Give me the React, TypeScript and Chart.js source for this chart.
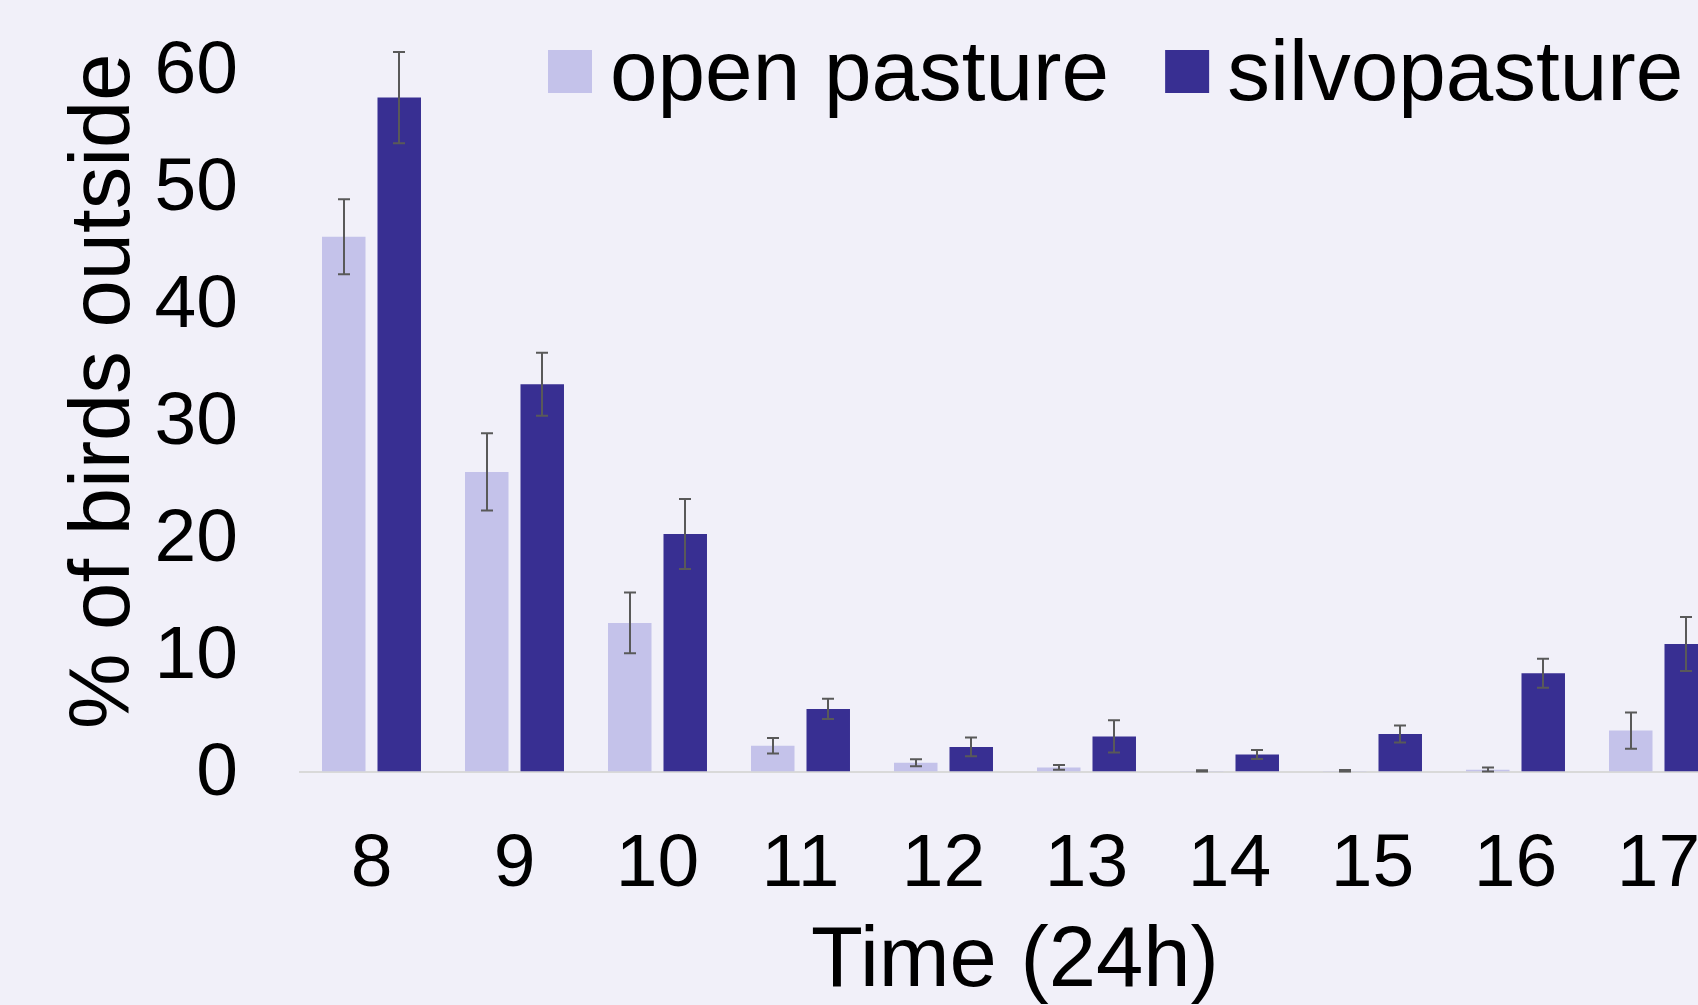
import React, { useEffect, useRef } from 'react';
import { Chart, registerables } from 'chart.js';

Chart.register(...registerables);

// ---- data ----
const categories = ['8', '9', '10', '11', '12', '13', '14', '15', '16', '17'];
const seriesNames = ['open pasture', 'silvopasture'];
const openPasture = [45.7, 25.6, 12.7, 2.2, 0.75, 0.35, 0.05, 0.04, 0.15, 3.5];
const openPastureErr = [3.2, 3.3, 2.6, 0.67, 0.3, 0.21, 0.05, 0.08, 0.2, 1.55];
const silvopasture = [57.6, 33.1, 20.3, 5.35, 2.1, 3.0, 1.45, 3.2, 8.4, 10.9];
const silvopastureErr = [3.9, 2.7, 3.0, 0.86, 0.8, 1.37, 0.38, 0.73, 1.24, 2.3];
const yTickStep = 10;
const yMax = 65;

const COLORS = ['#C4C2EA', '#382F92'];
const BG = '#F1F0F9';
const FONT = "'Liberation Sans', Arial, Helvetica, sans-serif";

export default function App() {
  const ref = useRef<HTMLCanvasElement>(null);

  useEffect(() => {
    if (!ref.current) return;
    const errs = [openPastureErr, silvopastureErr];

    const errorBars = {
      id: 'errorBars',
      afterDatasetsDraw(chart: any) {
        const ctx = chart.ctx;
        const ys = chart.scales.y;
        ctx.save();
        ctx.strokeStyle = '#595959';
        ctx.lineWidth = 2;
        chart.data.datasets.forEach((ds: any, i: number) => {
          const meta = chart.getDatasetMeta(i);
          meta.data.forEach((el: any, j: number) => {
            const v = ds.data[j];
            const e = errs[i][j];
            const x = Math.round(el.x);
            const yt = ys.getPixelForValue(v + e);
            const yb = ys.getPixelForValue(Math.max(0, v - e));
            ctx.beginPath();
            ctx.moveTo(x, yt);
            ctx.lineTo(x, yb);
            ctx.moveTo(x - 6, yt);
            ctx.lineTo(x + 6, yt);
            ctx.moveTo(x - 6, yb);
            ctx.lineTo(x + 6, yb);
            ctx.stroke();
          });
        });
        ctx.restore();
      },
    };

    const customLegend = {
      id: 'customLegend',
      afterDraw(chart: any) {
        const ctx = chart.ctx;
        ctx.save();
        ctx.font = `85.5px ${FONT}`;
        ctx.textBaseline = 'alphabetic';
        ctx.textAlign = 'left';
        let x = 548;
        seriesNames.forEach((name, i) => {
          ctx.fillStyle = COLORS[i];
          ctx.fillRect(x, 50, 44, 43);
          ctx.fillStyle = '#000';
          ctx.fillText(name, x + 62, 100);
          x += 62 + ctx.measureText(name).width + 56;
        });
        ctx.restore();
      },
    };

    const chart = new Chart(ref.current, {
      type: 'bar',
      data: {
        labels: categories,
        datasets: [
          {
            label: seriesNames[0],
            data: openPasture,
            backgroundColor: COLORS[0],
            borderWidth: 0,
            categoryPercentage: 0.776,
            barPercentage: 0.784,
          },
          {
            label: seriesNames[1],
            data: silvopasture,
            backgroundColor: COLORS[1],
            borderWidth: 0,
            categoryPercentage: 0.776,
            barPercentage: 0.784,
          },
        ],
      },
      options: {
        responsive: false,
        animation: false,
        devicePixelRatio: 1,
        layout: { padding: { top: 11, left: 0, right: 0, bottom: 0 } },
        plugins: {
          legend: { display: false },
          tooltip: { enabled: false },
        },
        scales: {
          x: {
            grid: { display: false, drawTicks: false },
            border: { display: true, color: '#D9D9D9', width: 2 },
            ticks: {
              font: { size: 75, family: FONT, lineHeight: 1.2 },
              color: '#000',
              padding: 49,
              maxRotation: 0,
              autoSkip: false,
            },
            title: {
              display: true,
              text: 'Time (24h)',
              color: '#000',
              font: { size: 85, family: FONT, lineHeight: 1 },
              padding: { top: 0, bottom: 0 },
            },
            afterFit: (s: any) => {
              s.height = 233.5;
              s.paddingLeft = 0;
              s.paddingRight = 0;
            },
          },
          y: {
            min: 0,
            max: yMax,
            grid: { display: false, drawTicks: false },
            border: { display: false },
            ticks: {
              stepSize: yTickStep,
              includeBounds: false,
              font: { size: 75, family: FONT },
              color: '#000',
              padding: 62,
              labelOffset: 3,
            },
            title: {
              display: true,
              text: '% of birds outside',
              color: '#000',
              font: { size: 85, family: FONT, lineHeight: 1 },
              padding: { top: 63, bottom: 0 },
            },
            afterFit: (s: any) => {
              s.width = 300;
              s.paddingTop = 0;
              s.paddingBottom = 0;
            },
          },
        },
      },
      plugins: [errorBars, customLegend],
    });

    return () => chart.destroy();
  }, []);

  return (
    <div
      style={{
        position: 'fixed',
        left: 0,
        top: 0,
        width: 1698,
        height: 1005,
        overflow: 'hidden',
        background: BG,
      }}
    >
      <canvas ref={ref} width={1730} height={1005} style={{ display: 'block' }} />
    </div>
  );
}
